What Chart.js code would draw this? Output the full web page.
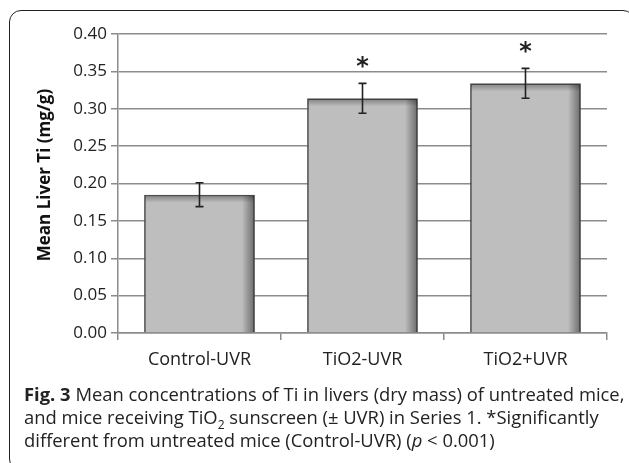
<!DOCTYPE html>
<html>
<head>
<meta charset="utf-8">
<script src="https://cdn.jsdelivr.net/npm/chart.js@4.4.1/dist/chart.umd.min.js"></script>
<style>
  html, body { margin: 0; padding: 0; background: #fff; overflow: hidden; }
  #wrap { position: relative; width: 629px; height: 463px; overflow: hidden; }
  #frame {
    position: absolute; left: 9px; top: 10px; width: 626px; height: 461px;
    border: 1.6px solid #222; border-radius: 12px; box-sizing: border-box;
  }
  #mycanvas { position: absolute; left: 0; top: 0; }
  #caption {
    position: absolute; left: 24px; top: 381.5px; width: 605px; white-space: nowrap;
    font-family: "Open Sans", sans-serif; font-size: 18.4px; line-height: 23px; color: #222;
  }
  #caption b { font-weight: bold; }
</style>
</head>
<body>
<div id="wrap">
  <div id="frame"></div>
  <canvas id="mycanvas" width="629" height="385"></canvas>
  <div id="caption"><b>Fig. 3</b> Mean concentrations of Ti in livers (dry mass) of untreated mice,<br>and mice receiving TiO<sub style="font-size:12px;line-height:0">2</sub> sunscreen (± UVR) in Series 1. *Significantly<br>different from untreated mice (Control-UVR) (<i>p</i> &lt; 0.001)</div>
</div>
<script>
var categories = ['Control-UVR', 'TiO2-UVR', 'TiO2+UVR'];
var meanTi = [0.185, 0.314, 0.334];
var errTi = [0.016, 0.020, 0.020];
var sigMarks = ['', '*', '*'];
var yTitle = 'Mean Liver Ti (mg/g)';

var ctx = document.getElementById('mycanvas').getContext('2d');

// shading on the bars (top + right edge), like the excel bevel
var shadePlugin = {
    id: 'shade',
    afterDatasetsDraw: function (chart) {
        var c = chart.ctx;
        chart.getDatasetMeta(0).data.forEach(function (bar) {
            var p = bar.getProps(['x', 'y', 'base', 'width'], true);
            var l = p.x - p.width / 2 + 1, r = p.x + p.width / 2 - 1;
            c.save();
            var g = c.createLinearGradient(r - 12, 0, r, 0);
            g.addColorStop(0, 'rgba(0,0,0,0)');
            g.addColorStop(1, 'rgba(0,0,0,0.42)');
            c.fillStyle = g;
            c.fillRect(r - 12, p.y + 1, 12, p.base - p.y - 1);
            var g2 = c.createLinearGradient(0, p.y + 1, 0, p.y + 8);
            g2.addColorStop(0, 'rgba(0,0,0,0.3)');
            g2.addColorStop(1, 'rgba(0,0,0,0)');
            c.fillStyle = g2;
            c.fillRect(l, p.y + 1, r - l, 7);
            c.restore();
        });
    }
};

var errorPlugin = {
    id: 'errbars',
    afterDatasetsDraw: function (chart) {
        var c = chart.ctx;
        var ys = chart.scales.y;
        chart.getDatasetMeta(0).data.forEach(function (bar, i) {
            var x = bar.x;
            var top = ys.getPixelForValue(meanTi[i] + errTi[i]);
            var bot = ys.getPixelForValue(meanTi[i] - errTi[i]);
            c.save();
            c.strokeStyle = '#222';
            c.lineWidth = 1.6;
            c.beginPath();
            c.moveTo(x, top); c.lineTo(x, bot);
            c.moveTo(x - 4, top); c.lineTo(x + 4, top);
            c.moveTo(x - 4, bot); c.lineTo(x + 4, bot);
            c.stroke();
            if (sigMarks[i]) {
                c.font = 'bold 24px "DejaVu Sans"';
                c.fillStyle = '#222';
                c.textAlign = 'center';
                c.textBaseline = 'alphabetic';
                var m = c.measureText(sigMarks[i]);
                var cy = top - 21;
                var base = cy + (m.actualBoundingBoxAscent - m.actualBoundingBoxDescent) / 2;
                c.fillText(sigMarks[i], x, base);
            }
            c.restore();
        });
    }
};

var yTitlePlugin = {
    id: 'ytitle',
    afterDraw: function (chart) {
        var c = chart.ctx;
        c.save();
        c.translate(50, 175);
        c.rotate(-Math.PI / 2);
        c.font = 'bold 17px "Open Sans"';
        c.fillStyle = '#111';
        c.textAlign = 'center';
        c.textBaseline = 'alphabetic';
        c.fillText(yTitle, 0, 0);
        c.restore();
    }
};

var myChart = new Chart(ctx, {
    type: 'bar',
    data: {
        labels: categories,
        datasets: [{
                data: meanTi,
                backgroundColor: '#bebebe',
                borderColor: '#555555',
                borderWidth: 1.8,
                categoryPercentage: 1.0,
                barPercentage: 0.68
            }]
    },
    options: {
        responsive: false,
        animation: false,
        layout: {padding: {top: 34, right: 22, left: 0, bottom: 0}},
        plugins: {
            legend: {display: false},
            tooltip: {enabled: false}
        },
        scales: {
            y: {
                min: 0,
                max: 0.4,
                afterFit: function (s) { s.width = 118; },
                ticks: {
                    stepSize: 0.05,
                    padding: 4,
                    color: '#222',
                    font: {family: 'Open Sans', size: 17},
                    callback: function (v) { return v.toFixed(2); }
                },
                grid: {color: '#8c8c8c', lineWidth: 1.5, tickLength: 7},
                border: {color: '#8c8c8c', width: 1.5}
            },
            x: {
                afterFit: function (s) { s.height = 52; },
                ticks: {
                    padding: 9,
                    color: '#222',
                    font: {family: 'Open Sans', size: 18}
                },
                grid: {drawOnChartArea: false, color: '#8c8c8c', lineWidth: 1.5, tickLength: 7},
                border: {color: '#8c8c8c', width: 1.5}
            }
        }
    },
    plugins: [shadePlugin, errorPlugin, yTitlePlugin]
});
</script>
</body>
</html>
